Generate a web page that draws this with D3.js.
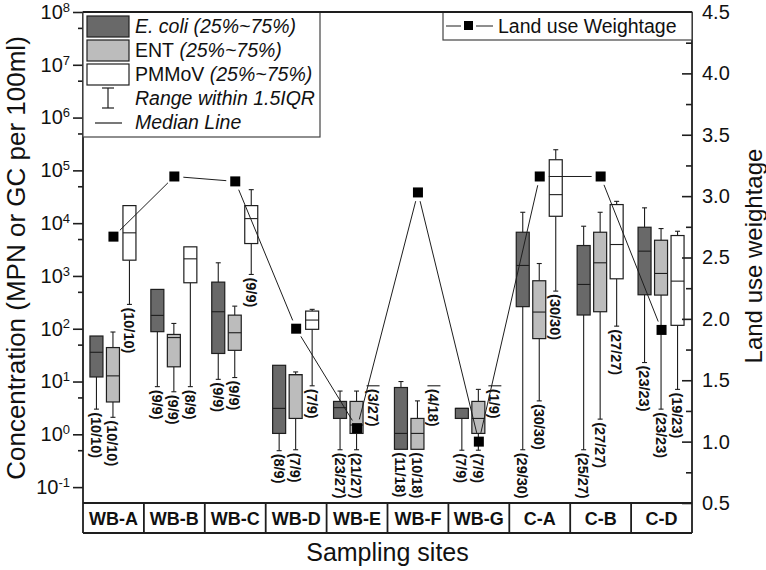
<!DOCTYPE html>
<html>
<head>
<meta charset="utf-8">
<script src="https://cdn.jsdelivr.net/npm/d3@7"></script>
<style>
  body { margin: 0; background: #fff; }
  text { font-family: "Liberation Sans", Arial, sans-serif; fill: #111; }
</style>
</head>
<body>
<svg class="svg" width="766" height="570"></svg>
<script>
// sites + land use weightage (right axis)
let sites = ['WB-A','WB-B','WB-C','WB-D','WB-E','WB-F','WB-G','C-A','C-B','C-D'];
let landUse = [2.67, 3.16, 3.12, 1.92, 1.11, 3.03, 1.0, 3.16, 3.16, 1.91];

// box stats [min, q1, median, q3, max]
let ecoli = [[3.0,12.2,35.8,72.8,72.8],[8.0,88,179,556,556],[11,34,210,764,1775],[0.49,1.04,3.1,20.3,20.3],
    [0.51,2.0,3.2,4.2,6.6],[0.52,0.52,1.04,7.7,10],[0.5,2.0,3.1,3.1,3.1],[0.51,262,1580,6730,16070],
    [0.51,182,690,3770,8750],[22.9,440,2950,8370,19500]];
let ent = [[2.1,4.1,12.8,44,86.7],[6.4,19,68,78,126],[11.9,39,84,181,268],[0.51,2.0,13.5,13.5,15.2],
    [0.51,1.04,1.5,4.2,6.6],[0.52,0.52,1.04,2.0,4.3],[0.5,1.04,2.0,4.2,7.1],[4.3,65,207,811,1720],
    [1.94,210,1775,6730,16070],[3.0,434,1115,4750,7900]];
let pmmov = [[289,1990,6560,21500,21500],[8.0,743,2110,3560,3560],[1067,4110,12200,21500,43100],[8.3,97.5,146,216,233],
    [8.3,8.3,8.3,8.3,8.3],[8.3,8.3,8.3,8.3,8.3],[8.3,8.3,8.3,8.3,8.3],[516,13500,34700,159000,246000],
    [112,883,3940,22500,25900],[7.1,116,798,5830,7030]];

let ecoliN = ['(10/10)','(9/9)','(9/9)','(8/9)','(23/27)','(11/18)','(7/9)','(29/30)','(25/27)','(23/23)'];
let entN = ['(10/10)','(9/9)','(9/9)','(7/9)','(21/27)','(10/18)','(7/9)','(30/30)','(27/27)','(23/23)'];
let pmmovN = ['(10/10)','(8/9)','(9/9)','(7/9)','(3/27)','(4/18)','(1/9)','(30/30)','(27/27)','(19/23)'];

let decades = [1e-1,1e0,1e1,1e2,1e3,1e4,1e5,1e6,1e7,1e8];
let halfDecades = [5e-1,5e0,5e1,5e2,5e3,5e4,5e5,5e6,5e7];
let rightTicks = [0.5,1.0,1.5,2.0,2.5,3.0,3.5,4.0,4.5];
let rightMinor = [0.75,1.25,1.75,2.25,2.75,3.25,3.75,4.25];

let series = [
    {name:'E. coli', data:ecoli, n:ecoliN, fill:'#696969', off:-17},
    {name:'ENT', data:ent, n:entN, fill:'#bcbcbc', off:-0.5},
    {name:'PMMoV', data:pmmov, n:pmmovN, fill:'#ffffff', off:16}
];

let L = 83, R = 692, T = 12, B = 503, SB = 533;
let boxW = 13, capW = 5;
let dark = '#1e1e1e';

let svg = d3.select('.svg');
let y = d3.scaleLog().domain([0.05, 1e8]).range([B, T]);
let y2 = d3.scaleLinear().domain([0.5, 4.5]).range([B, T]);
let x = d3.scaleBand().domain(sites).range([L, R]);
let cx = s => x(s) + x.bandwidth() / 2;

// boxes
series.forEach(function (se) {
    let g = svg.append('g').attr('class', 'series');
    sites.forEach(function (s, i) {
        let d = se.data[i];
        let xc = cx(s) + se.off;
        let st = () => g.append('line').attr('stroke', dark).attr('stroke-width', 1.1);
        // whiskers
        if (d[0] < d[1]) {
            st().attr('x1', xc).attr('x2', xc).attr('y1', y(d[1])).attr('y2', y(d[0]));
            st().attr('x1', xc - capW / 2).attr('x2', xc + capW / 2).attr('y1', y(d[0])).attr('y2', y(d[0]));
        }
        if (d[4] > d[3]) {
            st().attr('x1', xc).attr('x2', xc).attr('y1', y(d[3])).attr('y2', y(d[4]));
            st().attr('x1', xc - capW / 2).attr('x2', xc + capW / 2).attr('y1', y(d[4])).attr('y2', y(d[4]));
        }
        if (d[3] > d[1]) {
            g.append('rect').attr('x', xc - boxW / 2).attr('width', boxW)
                .attr('y', y(d[3])).attr('height', y(d[1]) - y(d[3]))
                .attr('fill', se.fill).attr('stroke', dark).attr('stroke-width', 1.2);
        }
        st().attr('x1', xc - boxW / 2).attr('x2', xc + boxW / 2).attr('y1', y(d[2])).attr('y2', y(d[2]));
        // count label
        g.append('text')
            .attr('transform', 'translate(' + (xc - 0.5) + ',' + (y(d[0]) + 3) + ') rotate(90)')
            .attr('dominant-baseline', 'central')
            .style('font-size', '14.5px').style('font-weight', 'bold')
            .text(se.n[i]);
    });
});

// land use line with small gaps at the markers
let pts = sites.map((s, i) => [cx(s), y2(landUse[i])]);
let gap = 9;
for (let i = 0; i < pts.length - 1; i++) {
    let p0 = pts[i], p1 = pts[i + 1];
    let dx = p1[0] - p0[0], dy = p1[1] - p0[1];
    let len = Math.sqrt(dx * dx + dy * dy);
    let ux = dx / len, uy = dy / len;
    svg.append('line')
        .attr('x1', p0[0] + ux * gap).attr('y1', p0[1] + uy * gap)
        .attr('x2', p1[0] - ux * gap).attr('y2', p1[1] - uy * gap)
        .attr('stroke', dark).attr('stroke-width', 1);
}
svg.selectAll('.lu').data(pts).enter().append('rect').attr('class', 'lu')
    .attr('x', d => d[0] - 5).attr('y', d => d[1] - 5)
    .attr('width', 10).attr('height', 10).attr('fill', '#000');

// left axis
let axL = svg.append('g').attr('transform', 'translate(' + L + ',0)')
    .call(d3.axisLeft(y).tickValues(decades).tickSize(10).tickPadding(3).tickFormat(''));
axL.selectAll('.tick text').each(function (d) {
    let t = d3.select(this).style('font-size', '20px');
    t.append('tspan').text('10');
    t.append('tspan').attr('dy', '-0.55em').style('font-size', '13px').text(Math.round(Math.log10(d)));
});
svg.append('g').attr('transform', 'translate(' + L + ',0)')
    .call(d3.axisLeft(y).tickValues(halfDecades).tickSize(5).tickFormat(''));

// right axis, ticks pointing inward
let axR = svg.append('g').attr('transform', 'translate(' + R + ',0)')
    .call(d3.axisRight(y2).tickValues(rightTicks).tickSizeInner(-10).tickSizeOuter(0).tickPadding(10)
        .tickFormat(d3.format('.1f')));
axR.selectAll('.tick text').style('font-size', '20px');
svg.append('g').attr('transform', 'translate(' + R + ',0)')
    .call(d3.axisRight(y2).tickValues(rightMinor).tickSizeInner(-6).tickSizeOuter(0).tickFormat(''));

svg.selectAll('.domain').remove();
svg.selectAll('.tick line').attr('stroke', dark).attr('stroke-width', 1.6);

// frame + category strip
let fr = (x1, y1, x2, y2_) => svg.append('line').attr('x1', x1).attr('y1', y1).attr('x2', x2).attr('y2', y2_)
    .attr('stroke', dark).attr('stroke-width', 1.8);
fr(L, T, R, T);
fr(L, T, L, SB);
fr(R, T, R, SB);
fr(L, B, R, B);
fr(L, SB, R, SB);
sites.forEach(function (s, i) {
    if (i > 0) fr(x(s), B, x(s), SB);
    svg.append('text').attr('x', cx(s)).attr('y', 525)
        .attr('text-anchor', 'middle').style('font-size', '18px').style('font-weight', 'bold')
        .text(s);
});

// axis titles
svg.append('text').attr('transform', 'translate(25,258) rotate(-90)')
    .attr('text-anchor', 'middle').style('font-size', '26px')
    .text('Concentration (MPN or GC per 100ml)');
svg.append('text').attr('transform', 'translate(762,256) rotate(-90)')
    .attr('text-anchor', 'middle').style('font-size', '24px')
    .text('Land use weightage');
svg.append('text').attr('x', (L + R) / 2).attr('y', 561)
    .attr('text-anchor', 'middle').style('font-size', '25px')
    .text('Sampling sites');

// legend 1
let lg = svg.append('g');
lg.append('rect').attr('x', L).attr('y', T).attr('width', 237).attr('height', 125)
    .attr('fill', '#fff').attr('stroke', '#444').attr('stroke-width', 1.2);
let rowsY = [16, 40, 64];
series.forEach(function (se, i) {
    lg.append('rect').attr('x', 87).attr('y', rowsY[i]).attr('width', 42).attr('height', 21)
        .attr('fill', se.fill).attr('stroke', dark).attr('stroke-width', 1.2);
    let t = lg.append('text').attr('x', 135).attr('y', rowsY[i] + 17).style('font-size', '19.5px');
    t.append('tspan').style('font-style', i === 0 ? 'italic' : 'normal').text(se.name);
    t.append('tspan').style('font-style', 'italic').text(' (25%~75%)');
});
lg.append('line').attr('x1', 108).attr('x2', 108).attr('y1', 88).attr('y2', 108).attr('stroke', dark).attr('stroke-width', 1.2);
lg.append('line').attr('x1', 102).attr('x2', 114).attr('y1', 88).attr('y2', 88).attr('stroke', dark).attr('stroke-width', 1.2);
lg.append('line').attr('x1', 102).attr('x2', 114).attr('y1', 108).attr('y2', 108).attr('stroke', dark).attr('stroke-width', 1.2);
lg.append('text').attr('x', 135).attr('y', 105).style('font-size', '19.5px').style('font-style', 'italic')
    .text('Range within 1.5IQR');
lg.append('line').attr('x1', 95).attr('x2', 122).attr('y1', 123).attr('y2', 123).attr('stroke', dark).attr('stroke-width', 1.2);
lg.append('text').attr('x', 135).attr('y', 129).style('font-size', '19.5px').style('font-style', 'italic')
    .text('Median Line');

// legend 2
let lg2 = svg.append('g');
lg2.append('rect').attr('x', 443).attr('y', T).attr('width', R - 443).attr('height', 28)
    .attr('fill', '#fff').attr('stroke', '#444').attr('stroke-width', 1.2);
lg2.append('line').attr('x1', 446).attr('x2', 461).attr('y1', 26).attr('y2', 26).attr('stroke', dark);
lg2.append('line').attr('x1', 476).attr('x2', 493).attr('y1', 26).attr('y2', 26).attr('stroke', dark);
lg2.append('rect').attr('x', 464).attr('y', 21).attr('width', 9).attr('height', 9).attr('fill', '#000');
lg2.append('text').attr('x', 498).attr('y', 33).style('font-size', '19.5px').text('Land use Weightage');
fr(L, T, R, T);
</script>
</body>
</html>
